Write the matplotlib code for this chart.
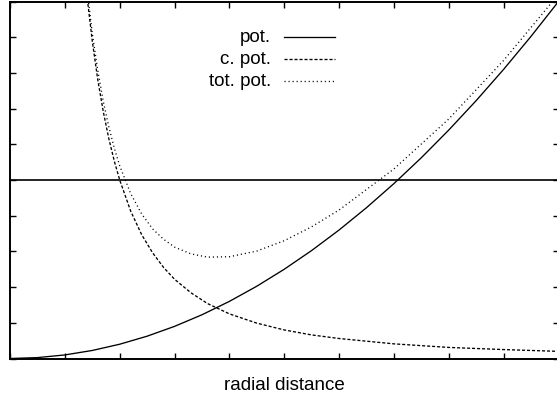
import matplotlib
matplotlib.use("Agg")
import matplotlib.pyplot as plt

plt.rcParams['font.family'] = ['Liberation Sans', 'DejaVu Sans']
plt.rcParams['lines.scale_dashes'] = False

# Sample points along the radial coordinate
r_pot = [0, 0.5, 1, 1.5, 2, 2.5, 3, 3.5, 4, 4.5, 5, 5.5, 6, 6.5, 7, 7.5,
         8, 8.5, 9, 9.5, 10]
pot = [0, 0.025, 0.1, 0.225, 0.4, 0.625, 0.9, 1.225, 1.6, 2.025, 2.5, 3.025,
       3.6, 4.225, 4.9, 5.625, 6.4, 7.225, 8.1, 9.025, 10.0]

r_c = [1.4, 1.5, 1.6, 1.7, 1.8, 1.9, 2.0, 2.2, 2.4, 2.6, 2.8, 3.0, 3.3, 3.6,
       4.0, 4.5, 5.0, 5.5, 6, 7, 8, 9, 10]
c_pot = [10.20, 8.89, 7.81, 6.92, 6.17, 5.54, 5.00, 4.13, 3.47, 2.96, 2.55,
         2.22, 1.84, 1.54, 1.25, 0.99, 0.80, 0.66, 0.56, 0.41, 0.31, 0.25, 0.20]
tot_pot = [10.40, 9.11, 8.07, 7.21, 6.50, 5.90, 5.40, 4.62, 4.05, 3.63, 3.34,
           3.12, 2.93, 2.84, 2.85, 3.01, 3.30, 3.69, 4.16, 5.31, 6.71, 8.35,
           10.20]

reference_level = 5.0
labels = ["pot.", "c. pot.", "tot. pot."]
styles = ['-', (0, (2.2, 1.4)), (0, (0.8, 2.1))]

W, H = 557, 397
fig = plt.figure(figsize=(W / 100, H / 100), dpi=100)
left_px, right_px, top_px, bottom_px = 10, 558.5, 1.5, 358.5
ax = fig.add_axes([left_px / W, (H - bottom_px) / H,
                   (right_px - left_px) / W, (bottom_px - top_px) / H])

lw = 0.95
ax.plot(r_pot, pot, color='black', lw=lw, linestyle=styles[0])
ax.plot(r_c, c_pot, color='black', lw=lw, linestyle=styles[1])
ax.plot(r_c, tot_pot, color='black', lw=lw, linestyle=styles[2])
ax.axhline(reference_level, color='black', lw=1.2)

ax.set_xlim(0, 10)
ax.set_ylim(0, 10)
ax.set_xticks(range(0, 11))
ax.set_yticks(range(0, 11))
ax.tick_params(direction='in', length=4, width=1.0, top=True, right=True,
               labelbottom=False, labelleft=False)
for s in ax.spines.values():
    s.set_linewidth(1.4)

fs = 13.5
ax.set_xlabel("radial distance", fontsize=fs, labelpad=13)

# Key: right-justified text followed by the line sample
def ax_frac(px, py):
    return ((px - left_px) / (right_px - left_px),
            (bottom_px - py) / (bottom_px - top_px))

rows_py = [37, 59, 81]
for lab, ls, py in zip(labels, styles, rows_py):
    tx, ty = ax_frac(271, py)
    ax.text(tx, ty, lab, transform=ax.transAxes, ha='right', va='center',
            fontsize=fs)
    x0, yy = ax_frac(284, py)
    x1, _ = ax_frac(335, py)
    ax.plot([x0, x1], [yy, yy], transform=ax.transAxes, color='black',
            lw=lw, linestyle=ls, clip_on=False)

fig.savefig("out.png", dpi=100)
